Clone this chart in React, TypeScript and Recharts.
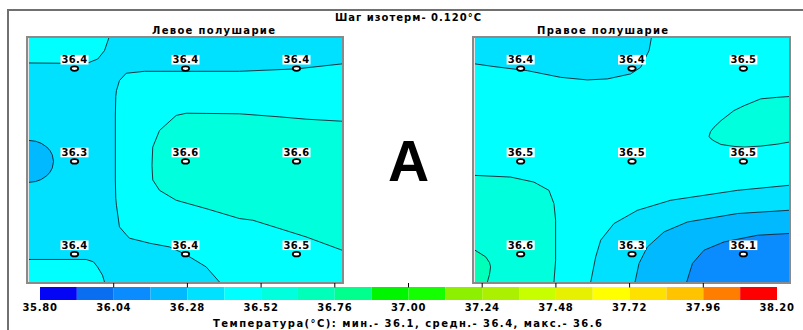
import React from 'react';
import { ComposedChart, Area, Line, Scatter, XAxis, YAxis } from 'recharts';

// ---------- colour scale ----------
const levels = [35.8, 35.92, 36.04, 36.16, 36.28, 36.4, 36.52, 36.64, 36.76, 36.88, 37.0, 37.12, 37.24, 37.36, 37.48, 37.6, 37.72, 37.84, 37.96, 38.08, 38.2];
const levelColors = [
  '#0505F5', '#0A6EF0', '#0A8CFF', '#00B9FF', '#00E1FF', '#00FFFF', '#00FFDC', '#00FFB9', '#00FF8C', '#00F500',
  '#14FF00', '#8CF000', '#AAF000', '#C8FF00', '#E6F000', '#FFFF00', '#FFE100', '#FFC300', '#FF7D00', '#FF0000',
];
const scaleTicks = [35.8, 36.04, 36.28, 36.52, 36.76, 37.0, 37.24, 37.48, 37.72, 37.96, 38.2];
const innerTicks = [36.04, 36.28, 36.52, 36.76, 37.0, 37.24, 37.48, 37.72, 37.96];

// ---------- sensors (column u, row v, temperature t) ----------
const leftSensors = [
  { u: 0, v: 0, t: 36.4 }, { u: 1, v: 0, t: 36.4 }, { u: 2, v: 0, t: 36.4 },
  { u: 0, v: 1, t: 36.3 }, { u: 1, v: 1, t: 36.6 }, { u: 2, v: 1, t: 36.6 },
  { u: 0, v: 2, t: 36.4 }, { u: 1, v: 2, t: 36.4 }, { u: 2, v: 2, t: 36.5 },
];
const rightSensors = [
  { u: 0, v: 0, t: 36.4 }, { u: 1, v: 0, t: 36.4 }, { u: 2, v: 0, t: 36.5 },
  { u: 0, v: 1, t: 36.5 }, { u: 1, v: 1, t: 36.5 }, { u: 2, v: 1, t: 36.5 },
  { u: 0, v: 2, t: 36.6 }, { u: 1, v: 2, t: 36.3 }, { u: 2, v: 2, t: 36.1 },
];

const U_DOMAIN: [number, number] = [-0.41, 2.41];
const V_DOMAIN: [number, number] = [-0.33, 2.30];
const V_TOP = -0.33;
const V_BOTTOM = 2.30;

// ---------- left hemisphere isotherms ----------
const leftBase = 36.28;
const leftTopLeftContour = [
  { u: 0.309, v: -0.33 }, { u: 0.27, v: -0.194 }, { u: 0.21, v: -0.104 }, { u: 0.12, v: -0.061 },
  { u: -0.045, v: -0.057 }, { u: -0.41, v: -0.061 },
];
const leftMainContour = [
  { u: 2.41, v: -0.051 }, { u: 1.997, v: 0.003 }, { u: 1.486, v: 0.029 }, { u: 0.631, v: 0.029 },
  { u: 0.466, v: 0.05 }, { u: 0.405, v: 0.129 }, { u: 0.378, v: 0.237 }, { u: 0.372, v: 0.30 },
  { u: 0.368, v: 0.5 }, { u: 0.368, v: 1.2 }, { u: 0.372, v: 1.40 }, { u: 0.378, v: 1.473 },
  { u: 0.405, v: 1.706 }, { u: 0.466, v: 1.79 }, { u: 0.495, v: 1.828 }, { u: 0.631, v: 1.868 },
  { u: 0.676, v: 1.882 }, { u: 0.856, v: 1.922 }, { u: 0.997, v: 2.0 }, { u: 1.186, v: 2.137 }, { u: 1.306, v: 2.30 },
];
const leftMainBand = [
  { u: 0.368, lo: 0.5, hi: 1.2 }, { u: 0.372, lo: 0.30, hi: 1.40 }, { u: 0.378, lo: 0.237, hi: 1.473 },
  { u: 0.405, lo: 0.129, hi: 1.706 }, { u: 0.466, lo: 0.05, hi: 1.79 }, { u: 0.495, lo: 0.043, hi: 1.828 },
  { u: 0.631, lo: 0.029, hi: 1.868 }, { u: 0.676, lo: 0.029, hi: 1.882 }, { u: 0.856, lo: 0.029, hi: 1.922 },
  { u: 0.997, lo: 0.029, hi: 2.0 }, { u: 1.186, lo: 0.029, hi: 2.137 }, { u: 1.306, lo: 0.029, hi: 2.30 },
  { u: 1.486, lo: 0.029, hi: 2.30 }, { u: 1.997, lo: 0.003, hi: 2.30 }, { u: 2.41, lo: -0.051, hi: 2.30 },
];
const leftBottomLeftContour = [
  { u: -0.41, v: 2.057 }, { u: 0.105, v: 2.057 }, { u: 0.171, v: 2.083 }, { u: 0.207, v: 2.137 },
  { u: 0.252, v: 2.226 }, { u: 0.27, v: 2.30 },
];
const leftColdContour = [
  { u: -0.41, v: 0.774 }, { u: -0.35, v: 0.783 }, { u: -0.30, v: 0.805 }, { u: -0.25, v: 0.845 },
  { u: -0.22, v: 0.885 }, { u: -0.20, v: 0.93 }, { u: -0.189, v: 1.0 }, { u: -0.20, v: 1.07 },
  { u: -0.22, v: 1.115 }, { u: -0.25, v: 1.155 }, { u: -0.30, v: 1.195 }, { u: -0.35, v: 1.217 }, { u: -0.41, v: 1.226 },
];
const leftColdBand = [
  { u: -0.41, lo: 0.774, hi: 1.226 }, { u: -0.35, lo: 0.783, hi: 1.217 }, { u: -0.30, lo: 0.805, hi: 1.195 },
  { u: -0.25, lo: 0.845, hi: 1.155 }, { u: -0.22, lo: 0.885, hi: 1.115 }, { u: -0.20, lo: 0.93, hi: 1.07 },
  { u: -0.189, lo: 1.0, hi: 1.0 },
];
const leftWarmContour = [
  { u: 2.41, v: 0.567 }, { u: 2.087, v: 0.545 }, { u: 1.847, v: 0.52 }, { u: 1.486, v: 0.487 },
  { u: 1.186, v: 0.483 }, { u: 1.006, v: 0.481 }, { u: 0.916, v: 0.505 }, { u: 0.766, v: 0.667 },
  { u: 0.705, v: 0.846 }, { u: 0.698, v: 1.043 }, { u: 0.705, v: 1.20 }, { u: 0.766, v: 1.312 },
  { u: 0.916, v: 1.419 }, { u: 1.006, v: 1.449 }, { u: 1.186, v: 1.509 }, { u: 1.486, v: 1.616 },
  { u: 1.606, v: 1.634 }, { u: 1.847, v: 1.724 }, { u: 2.087, v: 1.814 }, { u: 2.41, v: 1.957 },
];
const leftWarmBand = [
  { u: 0.698, lo: 1.0, hi: 1.09 }, { u: 0.705, lo: 0.846, hi: 1.20 }, { u: 0.766, lo: 0.667, hi: 1.312 },
  { u: 0.916, lo: 0.505, hi: 1.419 }, { u: 1.006, lo: 0.481, hi: 1.449 }, { u: 1.186, lo: 0.483, hi: 1.509 },
  { u: 1.486, lo: 0.487, hi: 1.616 }, { u: 1.606, lo: 0.496, hi: 1.634 }, { u: 1.847, lo: 0.52, hi: 1.724 },
  { u: 2.087, lo: 0.545, hi: 1.814 }, { u: 2.41, lo: 0.567, hi: 1.957 },
];

// ---------- right hemisphere isotherms ----------
const rightBase = 36.4;
const rightTopLeftContour = [
  { u: 1.174, v: -0.33 }, { u: 1.153, v: -0.194 }, { u: 1.078, v: -0.014 }, { u: 0.988, v: 0.057 },
  { u: 0.779, v: 0.111 }, { u: 0.599, v: 0.122 }, { u: 0.359, v: 0.094 }, { u: 0.06, v: 0.022 },
  { u: -0.24, v: -0.022 }, { u: -0.41, v: -0.051 },
];
const rightWarmContour = [
  { u: 2.41, v: 0.301 }, { u: 2.30, v: 0.31 }, { u: 2.156, v: 0.326 }, { u: 2.006, v: 0.40 },
  { u: 1.916, v: 0.452 }, { u: 1.80, v: 0.56 }, { u: 1.737, v: 0.631 }, { u: 1.705, v: 0.68 },
  { u: 1.692, v: 0.73 }, { u: 1.705, v: 0.752 }, { u: 1.737, v: 0.78 }, { u: 1.80, v: 0.818 },
  { u: 1.916, v: 0.838 }, { u: 2.006, v: 0.846 }, { u: 2.156, v: 0.835 }, { u: 2.30, v: 0.815 }, { u: 2.41, v: 0.792 },
];
const rightWarmBand = [
  { u: 1.692, lo: 0.72, hi: 0.74 }, { u: 1.705, lo: 0.68, hi: 0.752 }, { u: 1.737, lo: 0.631, hi: 0.78 },
  { u: 1.80, lo: 0.56, hi: 0.818 }, { u: 1.916, lo: 0.452, hi: 0.838 }, { u: 2.006, lo: 0.40, hi: 0.846 },
  { u: 2.156, lo: 0.326, hi: 0.835 }, { u: 2.30, lo: 0.31, hi: 0.815 }, { u: 2.41, lo: 0.301, hi: 0.792 },
];
const rightBottomLeftContour = [
  { u: -0.41, v: 1.151 }, { u: -0.09, v: 1.169 }, { u: 0.119, v: 1.223 }, { u: 0.254, v: 1.312 },
  { u: 0.299, v: 1.455 }, { u: 0.314, v: 1.634 }, { u: 0.314, v: 2.065 }, { u: 0.299, v: 2.30 },
];
const rightBottomLeftBand = [
  { u: -0.41, lo: 1.151, hi: 2.30 }, { u: -0.09, lo: 1.169, hi: 2.30 }, { u: 0.119, lo: 1.223, hi: 2.30 },
  { u: 0.254, lo: 1.312, hi: 2.30 }, { u: 0.299, lo: 1.455, hi: 2.30 }, { u: 0.314, lo: 1.634, hi: 2.065 },
];
const rightCornerContour = [
  { u: -0.41, v: 1.957 }, { u: -0.314, v: 2.029 }, { u: -0.28, v: 2.09 }, { u: -0.27, v: 2.137 },
  { u: -0.28, v: 2.22 }, { u: -0.299, v: 2.30 },
];
const rightCornerBand = [
  { u: -0.41, lo: 1.957, hi: 2.30 }, { u: -0.314, lo: 2.029, hi: 2.30 }, { u: -0.299, lo: 2.06, hi: 2.30 },
  { u: -0.28, lo: 2.09, hi: 2.22 }, { u: -0.27, lo: 2.137, hi: 2.15 },
];
const rightCool1Contour = [
  { u: 2.41, v: 1.258 }, { u: 1.947, v: 1.312 }, { u: 1.348, v: 1.419 }, { u: 1.049, v: 1.527 },
  { u: 0.838, v: 1.670 }, { u: 0.719, v: 1.849 }, { u: 0.674, v: 2.029 }, { u: 0.629, v: 2.30 },
];
const rightCool2Contour = [
  { u: 2.41, v: 1.527 }, { u: 1.947, v: 1.562 }, { u: 1.498, v: 1.653 }, { u: 1.288, v: 1.760 },
  { u: 1.138, v: 1.922 }, { u: 1.063, v: 2.100 }, { u: 1.027, v: 2.30 },
];
const rightCool3Contour = [
  { u: 2.41, v: 1.777 }, { u: 2.127, v: 1.796 }, { u: 1.827, v: 1.868 }, { u: 1.647, v: 1.957 },
  { u: 1.543, v: 2.100 }, { u: 1.491, v: 2.30 },
];

// ---------- helpers ----------
type Pt = { u: number; v: number };
type BandPt = { u: number; lo: number; hi: number };
const edgeBand = (line: Pt[], edge: number): BandPt[] =>
  [...line].sort((a, b) => a.u - b.u).map((p) => ({ u: p.u, lo: p.v, hi: edge }));
const bandColor = (level: number) => {
  const i = levels.findIndex((l) => Math.abs(l - level) < 1e-6);
  return levelColors[i];
};
const rangeKey = (d: BandPt) => [d.lo, d.hi];

const leftRegions = [
  { band: 36.4, data: leftMainBand },
  { band: 36.52, data: leftWarmBand },
  { band: 36.4, data: edgeBand(leftTopLeftContour, V_TOP) },
  { band: 36.4, data: edgeBand(leftBottomLeftContour, V_BOTTOM) },
  { band: 36.16, data: leftColdBand },
];
const leftContours = [leftTopLeftContour, leftMainContour, leftBottomLeftContour, leftColdContour, leftWarmContour];

const rightRegions = [
  { band: 36.28, data: edgeBand(rightTopLeftContour, V_TOP) },
  { band: 36.52, data: rightWarmBand },
  { band: 36.52, data: rightBottomLeftBand },
  { band: 36.64, data: rightCornerBand },
  { band: 36.28, data: edgeBand(rightCool1Contour, V_BOTTOM) },
  { band: 36.16, data: edgeBand(rightCool2Contour, V_BOTTOM) },
  { band: 36.04, data: edgeBand(rightCool3Contour, V_BOTTOM) },
];
const rightContours = [rightTopLeftContour, rightWarmContour, rightBottomLeftContour, rightCornerContour, rightCool1Contour, rightCool2Contour, rightCool3Contour];

const FONT = '"DejaVu Sans", Verdana, sans-serif';

const renderSensor = (p: any) => {
  const { cx, cy, payload } = p;
  return (
    <g>
      <rect x={cx - 14} y={cy - 13.7} width={28} height={9.6} fill="#fff" />
      <text x={cx} y={cy - 5.4} textAnchor="middle" fontFamily={FONT} fontWeight="bold" fontSize={10} letterSpacing={0.3} fill="#000">
        {payload.t.toFixed(1)}
      </text>
      <ellipse cx={cx} cy={cy} rx={3.7} ry={2.2} fill="#fff" stroke="#000" strokeWidth={1.8} />
    </g>
  );
};

const PANEL_TOP = 38;
const PANEL_H = 244;

function Panel({ left, width, base, regions, contours, sensors }: any) {
  return (
    <>
      <div style={{ position: 'absolute', left: left - 3, top: PANEL_TOP - 2, width: width + 5, height: PANEL_H + 4, boxSizing: 'border-box', border: '2px solid #8a8a8a', background: '#e6e6e6' }} />
      <div style={{ position: 'absolute', left, top: PANEL_TOP, width, height: PANEL_H, background: bandColor(base) }}>
        <ComposedChart width={width} height={PANEL_H} margin={{ top: 0, right: 0, bottom: 0, left: 0 }}>
          <XAxis type="number" dataKey="u" domain={U_DOMAIN} hide allowDataOverflow />
          <YAxis type="number" dataKey="v" domain={V_DOMAIN} reversed hide allowDataOverflow />
          {regions.map((r: any, i: number) => (
            <Area key={'a' + i} data={r.data} dataKey={rangeKey} type="linear" fill={bandColor(r.band)} fillOpacity={1}
              stroke="none" dot={false} activeDot={false} isAnimationActive={false} />
          ))}
          {contours.map((c: Pt[], i: number) => (
            <Line key={'l' + i} data={c} dataKey="v" type="linear" stroke="#102430" strokeWidth={0.9}
              dot={false} activeDot={false} isAnimationActive={false} />
          ))}
          <Scatter data={sensors} dataKey="v" shape={renderSensor} isAnimationActive={false} />
        </ComposedChart>
      </div>
    </>
  );
}

// each colour bin of the scale as a tiny two-point range series
const scaleBins = levelColors.map((c, i) => ({
  color: c,
  data: [{ x: levels[i], r: [0, 1] }, { x: levels[i + 1], r: [0, 1] }],
}));

const ScaleTick = (p: any) => (
  <text x={p.x} y={p.y + 3} textAnchor="middle" fontFamily={FONT} fontWeight="bold" fontSize={10} letterSpacing={0.7} fill="#000">
    {Number(p.payload.value).toFixed(2)}
  </text>
);
const ScaleTickMark = (p: any) => (
  <line x1={p.x} x2={p.x} y1={0} y2={4.5} stroke="#000" strokeWidth={1} />
);

export default function App() {
  return (
    <div style={{ position: 'absolute', left: 0, top: 0, width: 803, height: 330, background: '#fff', overflow: 'hidden' }}>
      <div style={{ position: 'absolute', left: 7, top: 9, width: 800, height: 330, borderLeft: '2px solid #707070', borderTop: '2px solid #707070' }} />
      <Panel left={29} width={313} base={leftBase} regions={leftRegions} contours={leftContours} sensors={leftSensors} />
      <Panel left={475} width={314} base={rightBase} regions={rightRegions} contours={rightContours} sensors={rightSensors} />
      <div style={{ position: 'absolute', left: 0, top: 283 }}>
        <ComposedChart width={803} height={45} margin={{ top: 0, right: 26, bottom: 0, left: 40 }}>
          <XAxis type="number" dataKey="x" domain={[35.8, 38.2]} ticks={scaleTicks} interval={0}
            tickLine={false} axisLine={false} height={28} tick={<ScaleTick />} allowDataOverflow />
          <XAxis xAxisId="t" orientation="top" type="number" dataKey="x" domain={[35.8, 38.2]} ticks={innerTicks} interval={0}
            tick={<ScaleTickMark />} tickLine={false} axisLine={false} height={4} allowDataOverflow />
          <YAxis hide type="number" domain={[0, 1]} allowDataOverflow />
          {scaleBins.map((b, i) => (
            <Area key={i} data={b.data} dataKey="r" type="linear" fill={b.color} fillOpacity={1} stroke="none"
              dot={false} activeDot={false} isAnimationActive={false} />
          ))}
        </ComposedChart>
      </div>
      <svg width={803} height={330} style={{ position: 'absolute', left: 0, top: 0, pointerEvents: 'none' }}>
        <text x={335} y={20.5} textLength={146} lengthAdjust="spacing" fontFamily={FONT} fontWeight="bold" fontSize={10} fill="#000">Шаг изотерм- 0.120°C</text>
        <text x={152} y={34} textLength={123} lengthAdjust="spacing" fontFamily={FONT} fontWeight="bold" fontSize={10} fill="#000">Левое полушарие</text>
        <text x={537} y={34} textLength={131} lengthAdjust="spacing" fontFamily={FONT} fontWeight="bold" fontSize={10} fill="#000">Правое полушарие</text>
        <text x={408.5} y={181} textAnchor="middle" fontFamily='"Liberation Sans", Arial, sans-serif' fontWeight="bold" fontSize={57} fill="#000">A</text>
        <text x={213} y={326.5} textLength={389} lengthAdjust="spacing" fontFamily={FONT} fontWeight="bold" fontSize={10} fill="#000">Температура(°C): мин.- 36.1, средн.- 36.4, макс.- 36.6</text>
      </svg>
    </div>
  );
}
